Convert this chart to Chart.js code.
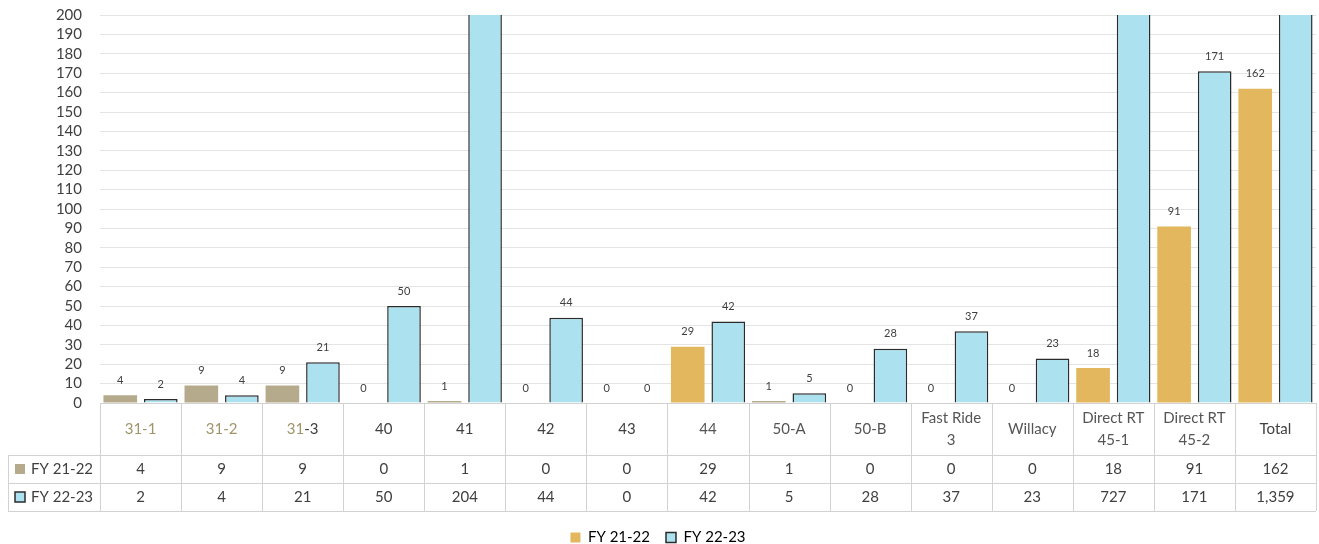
<!DOCTYPE html>
<html>
<head>
<meta charset="utf-8">
<script src="https://cdn.jsdelivr.net/npm/chart.js@4/dist/chart.umd.min.js"></script>
<style>
  html, body { margin: 0; padding: 0; background: #fff; }
  #wrap { width: 1319px; height: 544px; position: relative; }
</style>
</head>
<body>
<div id="wrap"><canvas id="c"></canvas></div>
<script>
// Routes / columns
const categories = ['31-1', '31-2', '31-3', '40', '41', '42', '43', '44', '50-A', '50-B',
  ['Fast Ride', '3'], 'Willacy', ['Direct RT', '45-1'], ['Direct RT', '45-2'], 'Total'];
// Series values
const fy2122 = [4, 9, 9, 0, 1, 0, 0, 29, 1, 0, 0, 0, 18, 91, 162];
const fy2223 = [2, 4, 21, 50, 204, 44, 0, 42, 5, 28, 37, 23, 727, 171, 1359];
const seriesNames = ['FY 21-22', 'FY 22-23'];
// Y axis
const yMin = 0, yMax = 200, yStep = 10;

const FONT = 'Lato, "Open Sans", sans-serif';
const GOLD = '#E2B75E';
const TAN = '#B5AB8C';
const BLUE = '#ACE2F0';
const OUTLINE = '#2b2b2b';
const TEXT = '#404040';
const TAN_TEXT = '#A2946A';

// the 31-x routes (and the tiny 41 / 50-A bars) print in a greyish tan
const fyOldColors = fy2122.map((v, i) => [0, 1, 2, 4, 8].includes(i) ? TAN : GOLD);

const valueLabels = {
  id: 'valueLabels',
  afterDatasetsDraw(chart) {
    const ctx = chart.ctx;
    const max = chart.scales.y.max;
    ctx.save();
    ctx.font = '11px ' + FONT;
    ctx.fillStyle = TEXT;
    ctx.textAlign = 'center';
    ctx.textBaseline = 'middle';
    chart.data.datasets.forEach((ds, di) => {
      const meta = chart.getDatasetMeta(di);
      meta.data.forEach((bar, i) => {
        const v = ds.data[i];
        if (v > max) return;
        ctx.fillText(String(v), bar.x, bar.y - 15);
      });
    });
    ctx.restore();
  }
};

const dataTable = {
  id: 'dataTable',
  afterDraw(chart) {
    const ctx = chart.ctx;
    const area = chart.chartArea;
    const n = categories.length;
    const colW = (area.right - area.left) / n;
    const top = area.bottom;
    const hdrB = top + 52, r1B = hdrB + 28, r2B = r1B + 28;
    const leftX = 8;
    ctx.save();
    ctx.strokeStyle = '#d2d2d2';
    ctx.lineWidth = 1;
    const hline = (x1, x2, y) => { ctx.beginPath(); ctx.moveTo(x1, y + 0.5); ctx.lineTo(x2, y + 0.5); ctx.stroke(); };
    const vline = (x, y1, y2) => { ctx.beginPath(); ctx.moveTo(Math.round(x) + 0.5, y1); ctx.lineTo(Math.round(x) + 0.5, y2); ctx.stroke(); };
    hline(area.left, area.right, top);
    hline(leftX, area.right, hdrB);
    hline(leftX, area.right, r1B);
    hline(leftX, area.right, r2B);
    for (let i = 0; i <= n; i++) vline(area.left + i * colW, top, r2B);
    vline(leftX, hdrB, r2B);

    ctx.font = '15px ' + FONT;
    ctx.textBaseline = 'middle';
    // header
    categories.forEach((c, i) => {
      const cx = chart.scales.x.getPixelForValue(i);
      const cy = (top + hdrB) / 2;
      if (Array.isArray(c)) {
        ctx.textAlign = 'center';
        ctx.fillStyle = '#555';
        ctx.fillText(c[0], cx, cy - 11);
        ctx.fillText(c[1], cx, cy + 11);
      } else if (/^31-/.test(c)) {
        // route prefix in tan; the last one's suffix is dark
        const w = ctx.measureText(c).width;
        const pre = c.slice(0, 2), post = c.slice(2);
        const pw = ctx.measureText(pre).width;
        ctx.textAlign = 'left';
        ctx.fillStyle = TAN_TEXT;
        ctx.fillText(pre, cx - w / 2, cy);
        ctx.fillStyle = c === '31-3' ? TEXT : TAN_TEXT;
        ctx.fillText(post, cx - w / 2 + pw, cy);
      } else {
        ctx.textAlign = 'center';
        ctx.fillStyle = i >= 7 && i <= 12 ? '#555' : TEXT;
        ctx.fillText(c, cx, cy);
      }
    });
    // rows
    const rows = [fy2122, fy2223];
    const rowMid = [(hdrB + r1B) / 2, (r1B + r2B) / 2];
    rows.forEach((vals, r) => {
      const cy = rowMid[r];
      // series key
      const sx = 15, sy = Math.round(cy - 5);
      if (r === 0) {
        ctx.fillStyle = TAN;
        ctx.fillRect(sx, sy, 10, 10);
      } else {
        ctx.fillStyle = BLUE;
        ctx.fillRect(sx, sy, 10, 10);
        ctx.strokeStyle = OUTLINE;
        ctx.lineWidth = 1.5;
        ctx.strokeRect(sx, sy, 10, 10);
      }
      ctx.textAlign = 'left';
      ctx.fillStyle = TEXT;
      ctx.fillText(seriesNames[r], 31, cy);
      ctx.textAlign = 'center';
      vals.forEach((v, i) => {
        const cx = chart.scales.x.getPixelForValue(i);
        ctx.fillText(v.toLocaleString('en-US'), cx, cy);
      });
    });
    ctx.restore();
  }
};

new Chart(document.getElementById('c'), {
  type: 'bar',
  data: {
    labels: categories,
    datasets: [
      {
        label: seriesNames[0],
        data: fy2122,
        backgroundColor: fyOldColors,
        borderWidth: 0,
        barPercentage: 0.83,
        categoryPercentage: 1.0
      },
      {
        label: seriesNames[1],
        data: fy2223,
        backgroundColor: BLUE,
        borderColor: OUTLINE,
        borderWidth: 1.5,
        barPercentage: 0.83,
        categoryPercentage: 1.0
      }
    ]
  },
  options: {
    responsive: true,
    maintainAspectRatio: false,
    animation: false,
    layout: { padding: { top: 15, right: 3, left: 0, bottom: -11 } },
    scales: {
      x: {
        grid: { display: false },
        border: { display: false },
        ticks: { display: false },
        afterFit(scale) { scale.height = 111; }
      },
      y: {
        min: yMin,
        max: yMax,
        ticks: { stepSize: yStep, autoSkip: false, font: { family: FONT, size: 15 }, color: TEXT, padding: 18 },
        grid: { color: '#e4e4e4', drawTicks: false },
        border: { display: false },
        afterFit(scale) {
          scale.width = 100;
          // let the top label sit on the plot edge without pushing the plot down
          scale.paddingTop = 0;
          scale.paddingBottom = 0;
        }
      }
    },
    plugins: {
      tooltip: { enabled: false },
      legend: {
        position: 'bottom',
        labels: {
          boxWidth: 10,
          boxHeight: 10,
          padding: 16,
          color: '#595959',
          font: { family: FONT, size: 15 },
          generateLabels() {
            return [
              { text: seriesNames[0], fillStyle: GOLD, strokeStyle: GOLD, lineWidth: 0, datasetIndex: 0 },
              { text: seriesNames[1], fillStyle: BLUE, strokeStyle: OUTLINE, lineWidth: 1.5, datasetIndex: 1 }
            ];
          }
        }
      }
    }
  },
  plugins: [valueLabels, dataTable]
});
</script>
</body>
</html>
